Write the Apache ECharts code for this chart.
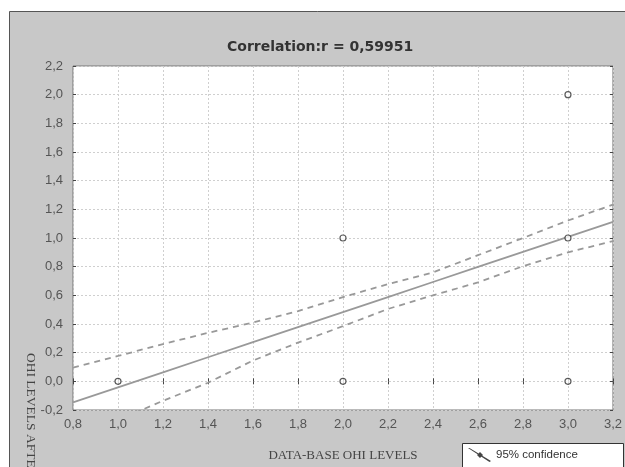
<!DOCTYPE html>
<html>
<head>
<meta charset="utf-8">
<script src="https://cdn.jsdelivr.net/npm/echarts@6/dist/echarts.min.js"></script>
<style>
html,body{margin:0;padding:0;background:#fff;}
#chart{width:625px;height:467px;}
</style>
</head>
<body>
<div id="chart"></div>
<script>
// Observed data points
var pointsX = [1, 2, 2, 3, 3, 3];
var pointsY = [0, 0, 1, 0, 1, 2];

// Regression line and 95% confidence bands
var bandX  = [0.8, 1.0, 1.2, 1.4, 1.6, 1.8, 2.0, 2.2, 2.4, 2.6, 2.8, 3.0, 3.2];
var fitY   = [-0.147, -0.042, 0.063, 0.168, 0.273, 0.378, 0.483, 0.588, 0.693, 0.798, 0.903, 1.008, 1.113];
var upperY = [0.095, 0.177, 0.26, 0.338, 0.41, 0.49, 0.588, 0.678, 0.76, 0.88, 1.0, 1.122, 1.233];
var lowerY = [-0.39, -0.27, -0.136, -0.01, 0.145, 0.27, 0.385, 0.505, 0.6, 0.69, 0.803, 0.9, 0.978];

var titleText = 'Correlation:r = 0,59951';
var xName = 'DATA-BASE OHI LEVELS';
var yName = 'OHI LEVELS AFTER';
var legendName = '95% confidence';

function zip(a, b) { return a.map(function (v, i) { return [v, b[i]]; }); }
function fmt(v) { return v.toFixed(1).replace('.', ','); }

var labelFont = '"Liberation Sans Narrow", "Liberation Sans", Arial, sans-serif';
var serifFont = '"Liberation Serif", "Times New Roman", serif';

var chart = echarts.init(document.getElementById('chart'));
var tickStyle = { show: true, inside: true, length: 3, lineStyle: { color: '#444', width: 1 } };
var splitStyle = { show: true, lineStyle: { color: '#cfcfcf', width: 1, type: [2, 2] } };

chart.setOption({
  animation: false,
  title: {
    text: titleText,
    left: 227, top: 40, padding: 0,
    textStyle: { fontFamily: '"DejaVu Sans", sans-serif', fontWeight: 'bold', fontSize: 14, color: '#333' }
  },
  graphic: [
    { type: 'rect', z: -10, shape: { x: 9.5, y: 11.5, width: 640, height: 480 },
      style: { fill: '#c8c8c8', stroke: '#555', lineWidth: 1 } },
    { type: 'rect', z: 3, shape: { x: 462.5, y: 443.5, width: 161, height: 40 },
      style: { fill: '#fff', stroke: '#333', lineWidth: 1 } },
    { type: 'text', z: 5, x: 31, y: 353, rotation: -Math.PI / 2,
      style: { text: yName, font: '13.5px ' + serifFont, fill: '#444', textAlign: 'left', textVerticalAlign: 'middle' } }
  ],
  legend: {
    data: [legendName],
    left: 468, top: 448, padding: 0,
    itemWidth: 23, itemHeight: 14,
    icon: 'path://M0,0 L1.5,0 L23,13 L21.5,14 Z M12,4 L15,7 L12,10 L9,7 Z',
    textStyle: { fontFamily: 'Arial, "Liberation Sans", sans-serif', fontSize: 11.5, color: '#333' },
    itemStyle: { color: '#444' },
    lineStyle: { opacity: 0 }
  },
  grid: {
    left: 73, top: 66, right: 12, bottom: 46,
    show: true, backgroundColor: '#fff', borderColor: '#777', borderWidth: 1
  },
  xAxis: [{
    type: 'value', min: 0.8, max: 3.2, interval: 0.2,
    name: xName, nameLocation: 'middle', nameGap: 39,
    nameTextStyle: { fontFamily: serifFont, fontSize: 13, color: '#444' },
    axisLine: { show: false },
    axisTick: tickStyle,
    axisLabel: { formatter: fmt, margin: 8, fontFamily: labelFont, fontSize: 13, color: '#555' },
    splitLine: splitStyle
  }, {
    type: 'value', position: 'top', min: 0.8, max: 3.2, interval: 0.2,
    axisLine: { show: false }, axisTick: tickStyle, axisLabel: { show: false }, splitLine: { show: false }
  }],
  yAxis: [{
    type: 'value', min: -0.2, max: 2.2, interval: 0.2,
    axisLine: { show: false },
    axisTick: tickStyle,
    axisLabel: { formatter: fmt, margin: 10, fontFamily: labelFont, fontSize: 13, color: '#555' },
    splitLine: splitStyle
  }, {
    type: 'value', position: 'right', min: -0.2, max: 2.2, interval: 0.2,
    axisLine: { show: false }, axisTick: tickStyle, axisLabel: { show: false }, splitLine: { show: false }
  }],
  series: [
    { name: 'fit', type: 'line', data: zip(bandX, fitY), showSymbol: false, clip: true,
      lineStyle: { color: '#999', width: 1.8 } },
    { name: legendName, type: 'line', data: zip(bandX, upperY), showSymbol: false, clip: true,
      lineStyle: { color: '#999', width: 1.8, type: [6, 5] } },
    { name: legendName, type: 'line', data: zip(bandX, lowerY), showSymbol: false, clip: true,
      lineStyle: { color: '#999', width: 1.8, type: [6, 5] } },
    { name: 'points', type: 'scatter', data: zip(pointsX, pointsY), symbol: 'circle', symbolSize: 6,
      itemStyle: { color: '#fff', borderColor: '#333', borderWidth: 1.2 }, z: 5 }
  ]
});
</script>
</body>
</html>
